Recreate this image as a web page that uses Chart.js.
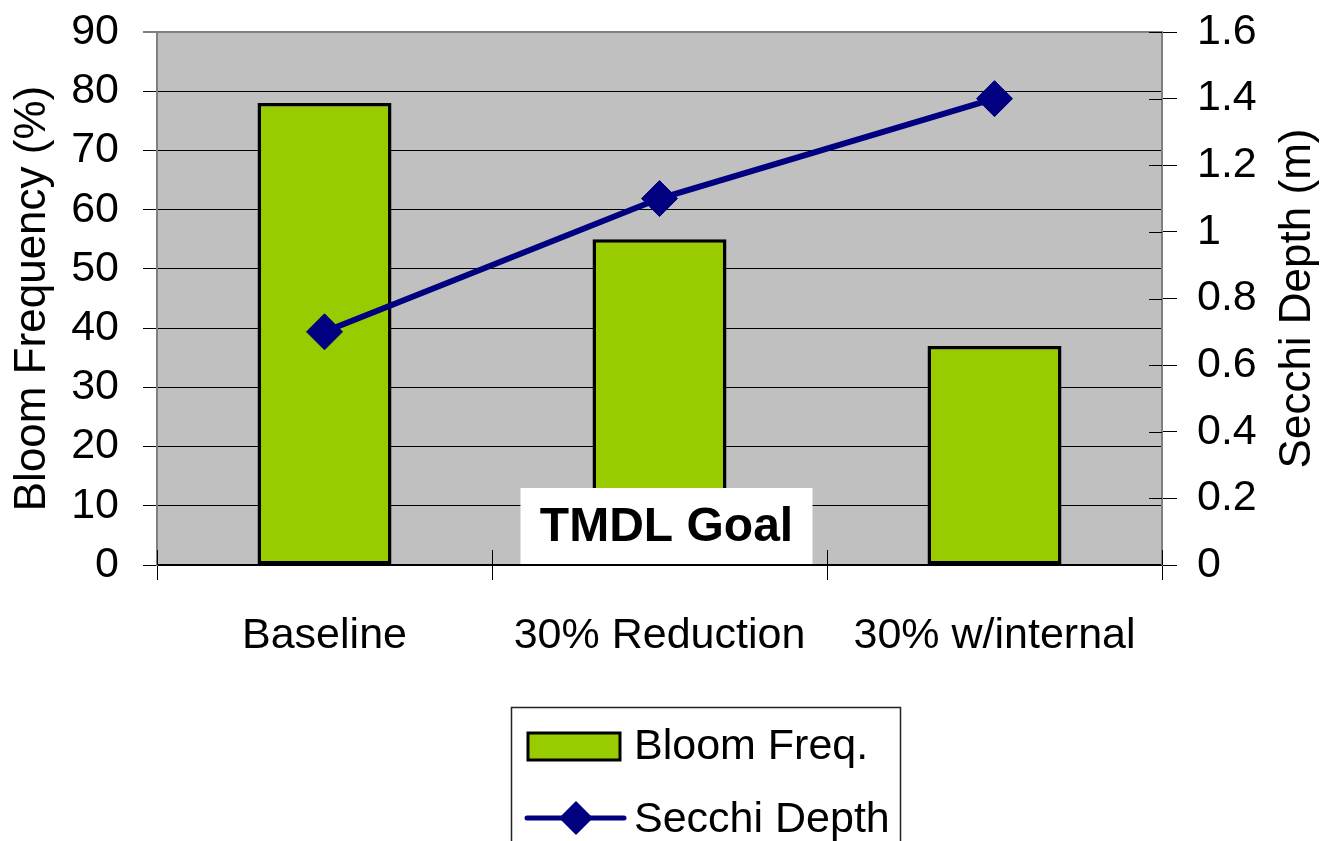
<!DOCTYPE html>
<html>
<head>
<meta charset="utf-8">
<script src="https://cdn.jsdelivr.net/npm/chart.js@4.4.0/dist/chart.umd.min.js"></script>
<style>
  html, body { margin: 0; padding: 0; background: #ffffff; }
  #wrap { width: 1325px; height: 841px; }
</style>
</head>
<body>
<div id="wrap"><canvas id="chart" width="1325" height="841"></canvas></div>
<script>
// Scenario categories and the two series
const categories = ['Baseline', '30% Reduction', '30% w/internal'];
const bloomFreq = [78, 55, 37];          // Bloom Frequency (%)
const secchiDepth = [0.7, 1.1, 1.4];     // Secchi Depth (m)

// Axis ranges
const bloomAxis = { min: 0, max: 90, step: 10 };
const secchiAxis = { min: 0, max: 1.6, step: 0.2 };

const FONT = '"Liberation Sans", Arial, Helvetica, sans-serif';
const BAR_COLOR = '#99CC00';
const LINE_COLOR = '#000080';
const PLOT_BG = '#C0C0C0';
const TICK_SIZE = 43;
const TITLE_SIZE = 44;

// Grey plot background behind the grid
const plotBackground = {
  id: 'plotBackground',
  beforeDraw(chart) {
    const { ctx, chartArea: a } = chart;
    ctx.save();
    ctx.fillStyle = PLOT_BG;
    ctx.fillRect(a.left, a.top, a.right - a.left, a.bottom - a.top);
    ctx.restore();
  }
};

// Inner half of the crossing tick marks on the right and bottom axes
const crossTicks = {
  id: 'crossTicks',
  afterDatasetsDraw(chart) {
    const { ctx, chartArea: a, scales } = chart;
    ctx.save();
    ctx.strokeStyle = '#000';
    ctx.lineWidth = 1;
    ctx.beginPath();
    scales.y1.ticks.forEach(t => {
      const y = Math.round(scales.y1.getPixelForValue(t.value)) + 0.5;
      ctx.moveTo(a.right - 13, y);
      ctx.lineTo(a.right, y);
    });
    const n = categories.length;
    for (let i = 0; i <= n; i++) {
      const x = Math.round(a.left + i * (a.right - a.left) / n) + 0.5;
      ctx.moveTo(x, a.bottom - 15);
      ctx.lineTo(x, a.bottom);
    }
    ctx.stroke();
    ctx.restore();
  }
};

// Right-hand axis title, reading bottom to top like the left one
const rightTitle = {
  id: 'rightTitle',
  afterDraw(chart) {
    const { ctx, chartArea: a } = chart;
    ctx.save();
    ctx.translate(1298, (a.top + a.bottom) / 2);
    ctx.rotate(-Math.PI / 2);
    ctx.fillStyle = '#000';
    ctx.font = TITLE_SIZE + 'px ' + FONT;
    ctx.textAlign = 'center';
    ctx.textBaseline = 'middle';
    ctx.fillText('Secchi Depth (m)', 0, 0);
    ctx.restore();
  }
};

// "TMDL Goal" label box over the 30% Reduction scenario
const goalLabel = {
  id: 'goalLabel',
  afterDatasetsDraw(chart) {
    const { ctx, scales } = chart;
    const cx = scales.x.getPixelForValue(1) + 7;
    const bottom = scales.y.getPixelForValue(0) - 1;
    const w = 292, h = 76;
    ctx.save();
    ctx.fillStyle = '#ffffff';
    ctx.fillRect(cx - w / 2, bottom - h, w, h);
    ctx.fillStyle = '#000';
    ctx.font = 'bold 48px ' + FONT;
    ctx.textAlign = 'center';
    ctx.textBaseline = 'middle';
    ctx.fillText('TMDL Goal', cx, bottom - h / 2 + 2);
    ctx.restore();
  }
};

// Boxed legend below the category labels
const boxedLegend = {
  id: 'boxedLegend',
  afterDraw(chart) {
    const { ctx } = chart;
    const bar = chart.data.datasets[0];
    const line = chart.data.datasets[1];
    ctx.save();
    ctx.fillStyle = '#ffffff';
    ctx.fillRect(511, 707, 389, 160);
    ctx.strokeStyle = '#222';
    ctx.lineWidth = 1.5;
    ctx.strokeRect(511.5, 707.5, 389, 160);

    // bar swatch
    ctx.fillStyle = bar.backgroundColor;
    ctx.fillRect(528, 733, 92, 27);
    ctx.strokeStyle = '#000';
    ctx.lineWidth = 3;
    ctx.strokeRect(528, 733, 92, 27);

    // line swatch with diamond
    ctx.strokeStyle = line.borderColor;
    ctx.lineWidth = 5;
    ctx.lineCap = 'round';
    ctx.beginPath();
    ctx.moveTo(527, 818);
    ctx.lineTo(624, 818);
    ctx.stroke();
    ctx.fillStyle = line.pointBackgroundColor;
    ctx.beginPath();
    ctx.moveTo(576 - 17, 818);
    ctx.lineTo(576, 818 - 17);
    ctx.lineTo(576 + 17, 818);
    ctx.lineTo(576, 818 + 17);
    ctx.closePath();
    ctx.fill();

    ctx.fillStyle = '#000';
    ctx.font = TICK_SIZE + 'px ' + FONT;
    ctx.textAlign = 'left';
    ctx.textBaseline = 'middle';
    ctx.fillText(bar.label, 634, 747);
    ctx.fillText(line.label, 634, 820);
    ctx.restore();
  }
};

// Keep the plot area's top edge at the layout padding, ignoring tick-label overhang
function fixVerticalScale(width) {
  return scale => {
    scale.width = width;
    scale.paddingTop = 0;
    scale.paddingBottom = 0;
  };
}

new Chart(document.getElementById('chart'), {
  data: {
    labels: categories,
    datasets: [
      {
        type: 'bar',
        label: 'Bloom Freq.',
        data: bloomFreq,
        yAxisID: 'y',
        backgroundColor: BAR_COLOR,
        borderColor: '#000',
        borderWidth: 3.5,
        borderSkipped: false,
        barPercentage: 0.4,
        categoryPercentage: 1.0,
        order: 2
      },
      {
        type: 'line',
        label: 'Secchi Depth',
        data: secchiDepth,
        yAxisID: 'y1',
        borderColor: LINE_COLOR,
        borderWidth: 6,
        pointStyle: 'rectRot',
        pointRadius: 18,
        pointBackgroundColor: LINE_COLOR,
        pointBorderColor: LINE_COLOR,
        pointBorderWidth: 1,
        tension: 0,
        order: 1
      }
    ]
  },
  options: {
    responsive: false,
    animation: false,
    devicePixelRatio: 1,
    layout: { padding: { top: 32, left: 0, right: 0, bottom: 0 } },
    plugins: {
      legend: { display: false },
      tooltip: { enabled: false }
    },
    scales: {
      x: {
        type: 'category',
        offset: true,
        grid: {
          offset: true,
          drawOnChartArea: false,
          drawTicks: true,
          tickLength: 15,
          color: '#000'
        },
        border: { display: true, color: '#000', width: 2 },
        ticks: {
          color: '#000',
          font: { family: FONT, size: TICK_SIZE },
          padding: 30,
          maxRotation: 0
        },
        afterFit(scale) {
          scale.height = 276;
          scale.paddingLeft = 0;
          scale.paddingRight = 0;
        }
      },
      y: {
        position: 'left',
        min: bloomAxis.min,
        max: bloomAxis.max,
        grid: {
          color: ctx => (ctx.tick && ctx.tick.value === bloomAxis.max) ? '#808080' : '#000',
          lineWidth: ctx => (ctx.tick && ctx.tick.value === bloomAxis.max) ? 2 : 1,
          drawTicks: true,
          tickLength: 14
        },
        border: { display: true, color: '#808080', width: 2 },
        ticks: {
          stepSize: bloomAxis.step,
          color: '#000',
          font: { family: FONT, size: TICK_SIZE },
          padding: 24
        },
        title: {
          display: true,
          text: 'Bloom Frequency (%)',
          color: '#000',
          font: { family: FONT, size: TITLE_SIZE },
          padding: { top: 6, bottom: 0 }
        },
        afterFit: fixVerticalScale(157)
      },
      y1: {
        position: 'right',
        min: secchiAxis.min,
        max: secchiAxis.max,
        grid: {
          drawOnChartArea: false,
          drawTicks: true,
          tickLength: 15,
          color: '#000'
        },
        border: { display: true, color: '#808080', width: 2 },
        ticks: {
          stepSize: secchiAxis.step,
          color: '#000',
          font: { family: FONT, size: TICK_SIZE },
          padding: 20,
          callback: v => String(Math.round(v * 10) / 10)
        },
        afterFit: fixVerticalScale(163)
      }
    }
  },
  plugins: [plotBackground, crossTicks, goalLabel, rightTitle, boxedLegend]
});
</script>
</body>
</html>
